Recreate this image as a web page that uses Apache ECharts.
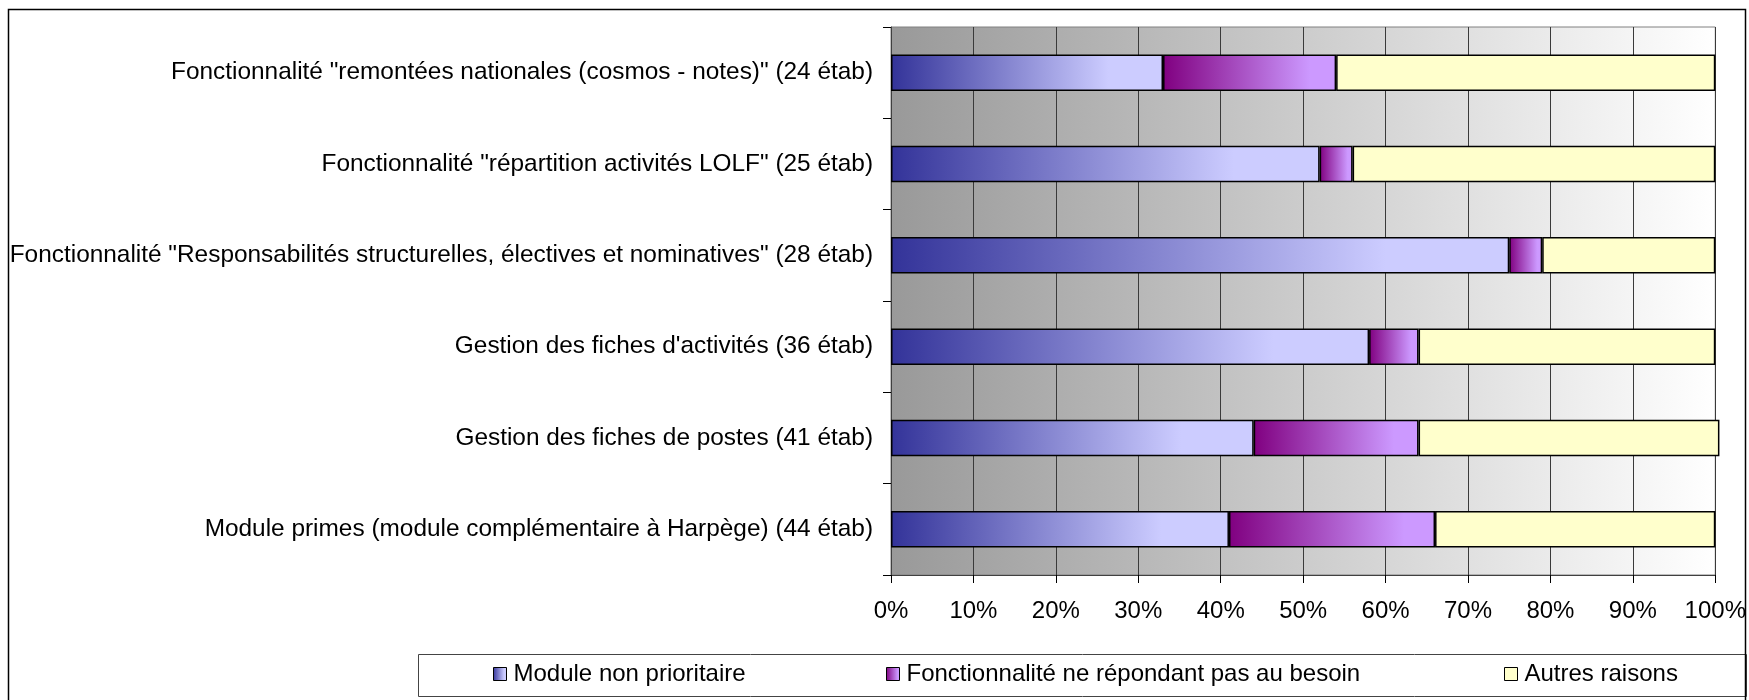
<!DOCTYPE html>
<html>
<head>
<meta charset="utf-8">
<script src="https://cdn.jsdelivr.net/npm/echarts@6/dist/echarts.min.js"></script>
<style>
  html, body { margin: 0; padding: 0; background: #fff; }
  #chart { width: 1749px; height: 700px; }
</style>
</head>
<body>
<div id="chart"></div>
<script>
var categories = [
    'Fonctionnalité "remontées nationales (cosmos - notes)" (24 étab)',
    'Fonctionnalité "répartition activités LOLF" (25 étab)',
    'Fonctionnalité "Responsabilités structurelles, électives et nominatives" (28 étab)',
    "Gestion des fiches d'activités (36 étab)",
    'Gestion des fiches de postes (41 étab)',
    'Module primes (module complémentaire à Harpège) (44 étab)'
];
var seriesNames = ['Module non prioritaire', 'Fonctionnalité ne répondant pas au besoin', 'Autres raisons'];
var nonPrioritaire = [33, 52, 75, 58, 44, 41];
var neRepondPas = [21, 4, 4, 6, 20, 25];
var autresRaisons = [46, 44, 21, 36, 36.5, 34];
var pctTicks = [0, 10, 20, 30, 40, 50, 60, 70, 80, 90, 100];

var chartMain = (function() {
    var FONT = "'Liberation Sans', Arial, sans-serif";

    function hGrad(from, to, stop) {
        return new echarts.graphic.LinearGradient(0, 0, 1, 0, [
            { offset: 0, color: from },
            { offset: stop, color: to },
            { offset: 1, color: to }
        ]);
    }

    // une legende par serie pour caler les positions
    function legendAt(name, left) {
        return {
            data: [{ name: name, itemStyle: { borderColor: '#000', borderWidth: 1 } }],
            left: left,
            top: 662,
            icon: 'rect',
            itemWidth: 13,
            itemHeight: 13,
            padding: 0,
            textStyle: { fontFamily: FONT, fontSize: 24, color: '#000', padding: [0, 0, 0, 2] }
        };
    }

    function barSeries(name, data, color) {
        return {
            name: name,
            type: 'bar',
            stack: 'total',
            data: data,
            clip: false,
            barCategoryGap: '60%',
            itemStyle: { color: color, borderColor: '#000', borderWidth: 1.5 },
            emphasis: { disabled: true }
        };
    }

    function init() {
        var myChart = echarts.init(document.getElementById('chart'), null, { renderer: 'canvas' });
        var option = {
            animation: false,
            textStyle: { fontFamily: FONT },
            grid: {
                left: 891,
                right: 32,
                top: 27,
                bottom: 125,
                show: true,
                borderColor: '#808080',
                borderWidth: 1,
                backgroundColor: hGrad('#999999', '#ffffff', 1)
            },
            graphic: [
                {
                    type: 'rect',
                    shape: { x: 8.5, y: 9.5, width: 1737, height: 700 },
                    style: { fill: null, stroke: '#000', lineWidth: 1.5 },
                    silent: true
                },
                {
                    type: 'rect',
                    shape: { x: 418.5, y: 654.5, width: 1328, height: 42 },
                    style: { fill: '#fff', stroke: '#444', lineWidth: 1 },
                    silent: true,
                    z: -1
                }
            ],
            legend: [
                legendAt(seriesNames[0], 493),
                legendAt(seriesNames[1], 886),
                legendAt(seriesNames[2], 1504)
            ],
            xAxis: {
                type: 'value',
                min: pctTicks[0],
                max: pctTicks[pctTicks.length - 1],
                interval: 10,
                axisLine: { show: true, lineStyle: { color: '#404040', width: 1 } },
                axisTick: { show: true, length: 8, lineStyle: { color: '#000' } },
                axisLabel: {
                    margin: 24,
                    fontFamily: FONT,
                    fontSize: 24,
                    color: '#000',
                    formatter: '{value}%'
                },
                splitLine: { show: true, lineStyle: { color: '#3a3a3a', width: 1 } }
            },
            yAxis: {
                type: 'category',
                data: categories,
                inverse: true,
                axisLine: { show: true, lineStyle: { color: '#404040', width: 1 } },
                axisTick: { show: true, length: 8, lineStyle: { color: '#000' } },
                axisLabel: {
                    margin: 18,
                    interval: 0,
                    fontFamily: FONT,
                    fontSize: 24.4,
                    color: '#000'
                },
                splitLine: { show: false }
            },
            series: [
                barSeries(seriesNames[0], nonPrioritaire, hGrad('#333399', '#ccccff', 0.8)),
                barSeries(seriesNames[1], neRepondPas, hGrad('#800080', '#cc99ff', 0.85)),
                barSeries(seriesNames[2], autresRaisons, '#ffffcc')
            ]
        };
        myChart.setOption(option, true);
        return myChart;
    }

    return {
        chart: init()
    };
})();
</script>
</body>
</html>
